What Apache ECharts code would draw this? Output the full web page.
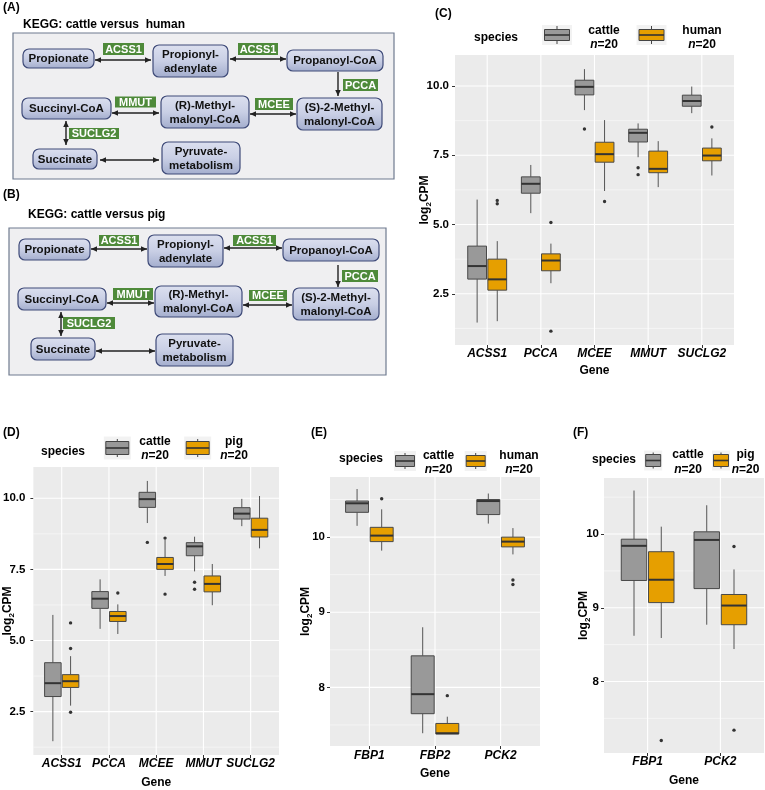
<!DOCTYPE html>
<html>
<head>
<meta charset="utf-8">
<script src="https://cdn.jsdelivr.net/npm/echarts@6/dist/echarts.min.js"></script>
<style>
  html, body { margin: 0; padding: 0; background: #fff; }
  #main { width: 765px; height: 790px; }
</style>
</head>
<body>
<div id="main"></div>
<script>
// ---- data ----
var genesCD = ['ACSS1', 'PCCA', 'MCEE', 'MMUT', 'SUCLG2'];
var genesE = ['FBP1', 'FBP2', 'PCK2'];
var genesF = ['FBP1', 'PCK2'];
var yTicksCD = [2.5, 5, 7.5, 10];
var yMinorCD = [1.25, 3.75, 6.25, 8.75];
var yTicksEF = [8, 9, 10];
var yMinorEF = [7.5, 8.5, 9.5, 10.5];

// box stats: [gene index, lower whisker, Q1, median, Q3, upper whisker]
var cattleCD = [[0, 1.46, 3.03, 3.50, 4.22, 5.90], [1, 5.41, 6.13, 6.47, 6.72, 7.15], [2, 9.13, 9.68, 9.97, 10.21, 10.61], [3, 7.43, 7.98, 8.31, 8.44, 8.65], [4, 9.02, 9.27, 9.46, 9.67, 9.98]];
var cattleCDOut = [[2, 8.45], [3, 7.05], [3, 6.80]];
var humanC = [[0, 1.51, 2.63, 3.02, 3.75, 4.40], [1, 2.88, 3.33, 3.70, 3.94, 4.31], [2, 6.21, 7.25, 7.54, 7.97, 8.77], [3, 6.35, 6.87, 7.01, 7.65, 8.01], [4, 6.77, 7.30, 7.49, 7.76, 8.11]];
var humanCOut = [[0, 5.87], [0, 5.75], [1, 5.07], [1, 1.15], [2, 5.83], [4, 8.52]];
var pigD = [[0, 2.71, 3.35, 3.57, 3.80, 4.45], [1, 5.23, 5.67, 5.86, 6.02, 6.27], [2, 7.27, 7.50, 7.69, 7.92, 8.55], [3, 6.24, 6.71, 6.99, 7.27, 7.69], [4, 8.24, 8.64, 8.89, 9.30, 10.08]];
var pigDOut = [[0, 5.62], [0, 4.72], [0, 2.48], [1, 6.67], [2, 8.60], [2, 6.63]];
var cattleE = [[0, 10.15, 10.33, 10.45, 10.48, 10.64], [1, 7.39, 7.65, 7.91, 8.42, 8.80], [2, 10.18, 10.30, 10.48, 10.50, 10.58]];
var humanE = [[0, 9.82, 9.94, 10.02, 10.13, 10.37], [1, 7.38, 7.38, 7.39, 7.52, 7.61], [2, 9.77, 9.87, 9.94, 10.00, 10.12]];
var humanEOut = [[0, 10.51], [1, 7.89], [2, 9.43], [2, 9.37]];
var cattleF = [[0, 8.62, 9.37, 9.84, 9.93, 10.59], [1, 8.77, 9.26, 9.92, 10.03, 10.39]];
var pigF = [[0, 8.59, 9.07, 9.38, 9.76, 10.10], [1, 8.44, 8.77, 9.03, 9.18, 9.52]];
var pigFOut = [[0, 7.20], [1, 9.83], [1, 7.34]];

var pathwayNodes = ['Propionate', 'Propionyl-\nadenylate', 'Propanoyl-CoA', 'Succinyl-CoA', '(R)-Methyl-\nmalonyl-CoA', '(S)-2-Methyl-\nmalonyl-CoA', 'Succinate', 'Pyruvate-\nmetabolism'];
var pathwayEnzymes = ['ACSS1', 'ACSS1', 'PCCA', 'MMUT', 'MCEE', 'SUCLG2'];
var diagramTitles = ['KEGG: cattle versus  human', 'KEGG: cattle versus pig'];

// ---- style / layout ----
var FONT = 'Liberation Sans, Arial, Helvetica, sans-serif';
var GRAY = '#999999', ORANGE = '#E69F00';
var BOX_W = 0.35, DODGE = 0.1875;

var option = { animation: false, grid: [], xAxis: [], yAxis: [], series: [], graphic: [] };

function txt(x, y, text, size, extra) {
  var st = { text: text, x: 0, y: 0, fontSize: size, fontWeight: 'bold', fontFamily: FONT, fill: '#000', align: 'left', verticalAlign: 'middle' };
  for (var k in extra) st[k] = extra[k];
  return { type: 'text', x: x, y: y, style: st };
}

function boxSeries(data, dodge, color, xi, yi, name) {
  return {
    type: 'custom', name: name, xAxisIndex: xi, yAxisIndex: yi, data: data, z: 3,
    encode: { x: 0, y: [1, 2, 3, 4, 5] },
    renderItem: function (params, api) {
      var x = api.value(0) + dodge;
      var lo = api.coord([x, api.value(1)]), q1 = api.coord([x, api.value(2)]),
          md = api.coord([x, api.value(3)]), q3 = api.coord([x, api.value(4)]),
          hi = api.coord([x, api.value(5)]);
      var hw = api.size([BOX_W, 0])[0] / 2, cx = lo[0];
      return { type: 'group', children: [
        { type: 'line', shape: { x1: cx, y1: hi[1], x2: cx, y2: q3[1] }, style: { stroke: '#555', lineWidth: 1 } },
        { type: 'line', shape: { x1: cx, y1: q1[1], x2: cx, y2: lo[1] }, style: { stroke: '#555', lineWidth: 1 } },
        { type: 'rect', shape: { x: cx - hw, y: q3[1], width: 2 * hw, height: q1[1] - q3[1] }, style: { fill: color, stroke: '#484848', lineWidth: 1 } },
        { type: 'line', shape: { x1: cx - hw, y1: md[1], x2: cx + hw, y2: md[1] }, style: { stroke: '#333', lineWidth: 2 } }
      ] };
    }
  };
}

function outSeries(data, dodge, xi, yi) {
  return {
    type: 'custom', xAxisIndex: xi, yAxisIndex: yi, data: data, encode: { x: 0, y: 1 }, z: 3,
    renderItem: function (params, api) {
      var p = api.coord([api.value(0) + dodge, api.value(1)]);
      return { type: 'circle', shape: { cx: p[0], cy: p[1], r: 1.7 }, style: { fill: '#333' } };
    }
  };
}

// white panel grid lines: kind 0 = major horizontal, 1 = minor horizontal, 2 = vertical
function gridLineSeries(p, xi, yi) {
  var data = [];
  p.ticks.forEach(function (v) { data.push([0, v, 0]); });
  p.minor.forEach(function (v) { data.push([0, v, 1]); });
  p.genes.forEach(function (g, j) { data.push([j, p.y[0], 2]); });
  return {
    type: 'custom', silent: true, z: 1, xAxisIndex: xi, yAxisIndex: yi, data: data, encode: { x: 0, y: 1 },
    renderItem: function (params, api) {
      var cs = params.coordSys, kind = api.value(2), pt = api.coord([api.value(0), api.value(1)]);
      if (kind === 2) {
        return { type: 'line', shape: { x1: pt[0], y1: cs.y, x2: pt[0], y2: cs.y + cs.height }, style: { stroke: '#fff', lineWidth: 1.1 } };
      }
      return { type: 'line', shape: { x1: cs.x, y1: pt[1], x2: cs.x + cs.width, y2: pt[1] }, style: { stroke: '#fff', lineWidth: kind ? 0.5 : 1.1 } };
    }
  };
}

var panels = [
  { tag: '(C)', tagPos: [435, 14], box: [455, 55, 279, 290], genes: genesCD, y: [0.65, 11.12], ticks: yTicksCD, minor: yMinorCD, dec: 1,
    lblMargin: [6, 3], nameGap: [24, 20],
    groups: [[cattleCD, cattleCDOut], [humanC, humanCOut]], species: ['cattle', 'human'],
    leg: { title: [474, 38], keys: [557, 651.5], ky: 35, bg: [30, 20], glyph: [25, 11], wh: 9, texts: [604, 702], ty: [31, 45] } },
  { tag: '(D)', tagPos: [3, 433], box: [30, 467, 249, 288], genes: genesCD, y: [0.975, 11.1], ticks: yTicksCD, minor: yMinorCD, dec: 1,
    lblMargin: [8, 3], nameGap: [20, 22],
    groups: [[cattleCD, cattleCDOut], [pigD, pigDOut]], species: ['cattle', 'pig'],
    leg: { title: [41, 452], keys: [117.3, 197.7], ky: 448, bg: [27, 23], glyph: [23, 13], wh: 9, texts: [155, 234], ty: [442, 456] } },
  { tag: '(E)', tagPos: [311, 433], box: [330, 477, 210, 269], genes: genesE, y: [7.22, 10.8], ticks: yTicksEF, minor: yMinorEF, dec: 0,
    lblMargin: [5, 4], nameGap: [18, 21.5],
    groups: [[cattleE, []], [humanE, humanEOut]], species: ['cattle', 'human'],
    leg: { title: [339, 459], keys: [405, 475.7], ky: 461, bg: [22, 20], glyph: [19, 11], wh: 8, texts: [438.6, 519], ty: [455.7, 470] } },
  { tag: '(F)', tagPos: [573, 433], box: [604, 478, 160, 275], genes: genesF, y: [7.03, 10.76], ticks: yTicksEF, minor: yMinorEF, dec: 0,
    lblMargin: [5, 3], nameGap: [14, 21.7],
    groups: [[cattleF, []], [pigF, pigFOut]], species: ['cattle', 'pig'],
    leg: { title: [592, 460], keys: [653.2, 721], ky: 460.5, bg: [18, 20], glyph: [15, 12], wh: 8, texts: [688, 745.5], ty: [455, 470] } }
];

panels.forEach(function (p, i) {
  var idxs = p.genes.map(function (g, j) { return j; });
  option.grid.push({ left: p.box[0], top: p.box[1], width: p.box[2], height: p.box[3], show: true, backgroundColor: '#EBEBEB', borderWidth: 0 });
  option.xAxis.push({
    type: 'value', gridIndex: i, min: -0.6, max: p.genes.length - 0.4,
    name: 'Gene', nameLocation: 'middle', nameGap: p.nameGap[1], nameMoveOverlap: false,
    nameTextStyle: { fontFamily: FONT, fontWeight: 'bold', fontSize: 12, color: '#000' },
    axisLine: { show: false, onZero: false },
    axisTick: { show: true, length: 3, lineStyle: { color: '#333' }, customValues: idxs },
    axisLabel: { customValues: idxs, formatter: function (v) { return p.genes[Math.round(v)]; },
      fontStyle: 'italic', fontWeight: 'bold', fontSize: 12, color: '#000', margin: p.lblMargin[1], fontFamily: FONT },
    splitLine: { show: false }
  });
  option.yAxis.push({
    type: 'value', gridIndex: i, min: p.y[0], max: p.y[1], position: 'left',
    name: 'log{s|2}CPM', nameLocation: 'middle', nameGap: p.nameGap[0], nameRotate: 90, nameMoveOverlap: false,
    nameTextStyle: { fontFamily: FONT, fontWeight: 'bold', fontSize: 12, color: '#000',
      rich: { s: { fontFamily: FONT, fontWeight: 'bold', fontSize: 8, color: '#000', verticalAlign: 'bottom', padding: [0, 0, -2, 0] } } },
    axisLine: { show: false, onZero: false },
    axisTick: { show: true, length: 3, lineStyle: { color: '#333' }, customValues: p.ticks },
    axisLabel: { customValues: p.ticks, formatter: function (v) { return v.toFixed(p.dec); },
      fontWeight: 'bold', fontSize: 11.5, color: '#000', margin: p.lblMargin[0], fontFamily: FONT },
    splitLine: { show: false }
  });
  option.series.push(gridLineSeries(p, i, i));
  var colors = [GRAY, ORANGE], dodges = [-DODGE, DODGE];
  p.groups.forEach(function (g, k) {
    option.series.push(boxSeries(g[0], dodges[k], colors[k], i, i, p.species[k]));
    if (g[1].length) option.series.push(outSeries(g[1], dodges[k], i, i));
  });

  // tag + legend
  var L = p.leg;
  option.graphic.push(txt(p.tagPos[0], p.tagPos[1], p.tag, 12));
  option.graphic.push(txt(L.title[0], L.title[1], 'species', 12));
  L.keys.forEach(function (kx, k) {
    var ky = L.ky, gw = L.glyph[0], gh = L.glyph[1];
    option.graphic.push({ type: 'rect', shape: { x: kx - L.bg[0] / 2, y: ky - L.bg[1] / 2, width: L.bg[0], height: L.bg[1] }, style: { fill: '#F2F2F2' } });
    option.graphic.push({ type: 'line', shape: { x1: kx, y1: ky - L.wh, x2: kx, y2: ky + L.wh }, style: { stroke: '#444', lineWidth: 1 } });
    option.graphic.push({ type: 'rect', shape: { x: kx - gw / 2, y: ky - gh / 2, width: gw, height: gh }, style: { fill: colors[k], stroke: '#444', lineWidth: 1 } });
    option.graphic.push({ type: 'line', shape: { x1: kx - gw / 2, y1: ky, x2: kx + gw / 2, y2: ky }, style: { stroke: '#333', lineWidth: 1.6 } });
    option.graphic.push(txt(L.texts[k], L.ty[0], p.species[k], 12, { align: 'center' }));
    option.graphic.push(txt(L.texts[k], L.ty[1], '{i|n}=20', 12, { align: 'center',
      rich: { i: { fontStyle: 'italic', fontWeight: 'bold', fontSize: 12, fontFamily: FONT, fill: '#000' } } }));
  });
});

// ---- pathway diagrams (A) and (B) ----
var diagrams = [
  { tag: [3, 8, '(A)'], title: [23, 25], frame: [13, 33, 381, 146],
    nodes: [[23, 49, 71, 19], [153, 45, 75, 32], [287, 50, 96, 21], [22, 98, 89, 21], [161, 96, 88, 32], [297, 98, 85, 32], [33, 149, 64, 20], [162, 142, 78, 32]],
    enz: [[103, 43, 41, 12], [238, 43, 40, 12], [343, 79, 35, 12], [115, 96.5, 41, 11], [255, 98, 38, 12], [69, 128, 50, 11]],
    arrows: [[95, 60, 151, 60, 2], [230, 59, 286, 59, 2], [338, 72, 338, 96, 1], [112, 113, 159, 113, 2], [250, 114, 296, 114, 2], [66, 121, 66, 145, 2], [100, 160, 159, 160, 2]] },
  { tag: [3, 195, '(B)'], title: [28, 215], frame: [9, 228, 377, 147],
    nodes: [[19, 239, 71, 21], [148, 235, 75, 32], [283, 239, 96, 22], [18, 288, 88, 22], [155, 286, 87, 31], [293, 288, 86, 32], [31, 338, 64, 22], [156, 334, 77, 32]],
    enz: [[99, 235, 40, 11], [233, 235, 43, 11], [342, 270, 36, 12], [113, 288, 40, 12], [249, 290, 38, 11], [63, 317, 52, 12]],
    arrows: [[91, 249, 147, 249, 2], [224, 248, 282, 248, 2], [338, 265, 338, 287, 1], [107, 303, 154, 303, 2], [243, 305, 292, 305, 2], [61, 312, 61, 336, 2], [96, 351, 155, 351, 2]] }
];

function arrowHead(x, y, dx, dy) {
  var len = Math.sqrt(dx * dx + dy * dy), ux = dx / len, uy = dy / len, L = 6, W = 2.8;
  return { type: 'polygon', shape: { points: [[x, y], [x - ux * L - uy * W, y - uy * L + ux * W], [x - ux * L + uy * W, y - uy * L - ux * W]] }, style: { fill: '#222' } };
}

diagrams.forEach(function (d, di) {
  option.graphic.push(txt(d.tag[0], d.tag[1], d.tag[2], 12));
  option.graphic.push(txt(d.title[0], d.title[1], diagramTitles[di], 12));
  option.graphic.push({ type: 'rect', shape: { x: d.frame[0], y: d.frame[1], width: d.frame[2], height: d.frame[3] },
    style: { fill: '#EFEFF1', stroke: '#6F7B8F', lineWidth: 1.2 } });
  d.nodes.forEach(function (r, k) {
    option.graphic.push({ type: 'rect', shape: { x: r[0], y: r[1], width: r[2], height: r[3], r: 6 },
      style: { fill: new echarts.graphic.LinearGradient(0, 0, 0, 1, [{ offset: 0, color: '#DCE0EF' }, { offset: 0.5, color: '#C9CFE5' }, { offset: 1, color: '#A3ADCD' }]),
        stroke: '#3E4A78', lineWidth: 1.2 } });
    option.graphic.push(txt(r[0] + r[2] / 2, r[1] + r[3] / 2 + 0.5, pathwayNodes[k], 11.5, { align: 'center', lineHeight: 14, fill: '#111' }));
  });
  d.arrows.forEach(function (a) {
    var dx = a[2] - a[0], dy = a[3] - a[1];
    option.graphic.push({ type: 'line', shape: { x1: a[0], y1: a[1], x2: a[2], y2: a[3] }, style: { stroke: '#222', lineWidth: 1.4 } });
    option.graphic.push(arrowHead(a[2], a[3], dx, dy));
    if (a[4] === 2) option.graphic.push(arrowHead(a[0], a[1], -dx, -dy));
  });
  d.enz.forEach(function (r, k) {
    option.graphic.push({ type: 'rect', shape: { x: r[0], y: r[1], width: r[2], height: r[3] }, style: { fill: '#4E8A3A' } });
    option.graphic.push(txt(r[0] + r[2] / 2, r[1] + r[3] / 2 + 0.5, pathwayEnzymes[k], 11, { align: 'center', fill: '#fff' }));
  });
});

var chart = echarts.init(document.getElementById('main'), null, { renderer: 'canvas' });
chart.setOption(option);
</script>
</body>
</html>
